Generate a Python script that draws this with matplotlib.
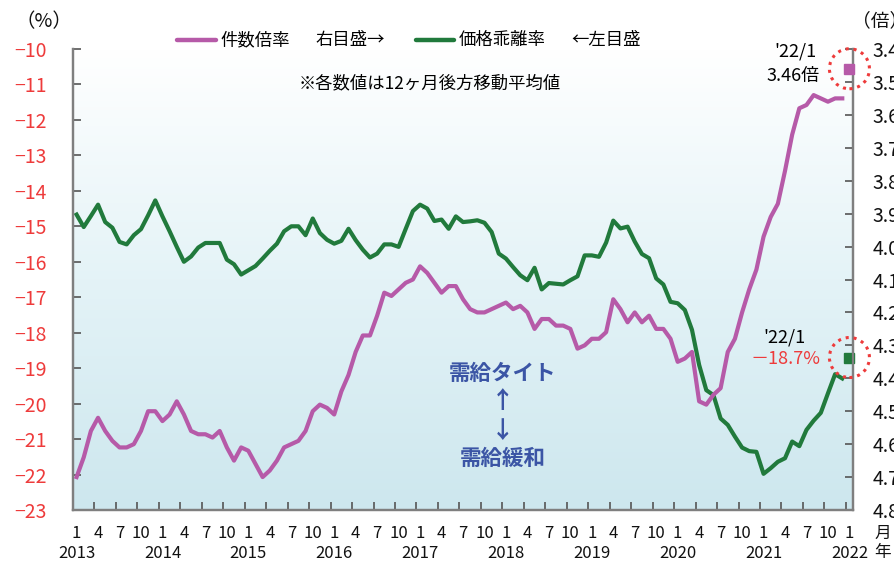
import matplotlib
matplotlib.use("Agg")
import matplotlib.pyplot as plt
import numpy as np
from matplotlib.colors import LinearSegmentedColormap
from matplotlib.lines import Line2D
from matplotlib.patches import Circle
from matplotlib.transforms import IdentityTransform, blended_transform_factory

plt.rcParams["font.family"] = ["Noto Sans CJK JP", "DejaVu Sans"]

# monthly values, 2013/1 .. 2021/12 (12-month trailing moving average)
years = list(range(2013, 2023))
month_labels = ["1", "4", "7", "10"]

# 価格乖離率 (%), left axis
gap = [
    -14.67, -15.02, -14.71, -14.39, -14.88, -15.04, -15.44, -15.51, -15.25, -15.08, -14.69, -14.27,
    -14.72, -15.14, -15.58, -16.00, -15.85, -15.60, -15.47, -15.47, -15.47, -15.94, -16.07, -16.36,
    -16.24, -16.12, -15.91, -15.69, -15.49, -15.14, -15.00, -15.00, -15.25, -14.78, -15.19, -15.38,
    -15.49, -15.41, -15.07, -15.39, -15.66, -15.88, -15.77, -15.51, -15.51, -15.58, -15.07, -14.57,
    -14.39, -14.50, -14.85, -14.81, -15.07, -14.72, -14.88, -14.86, -14.83, -14.90, -15.16, -15.77,
    -15.91, -16.15, -16.38, -16.52, -16.17, -16.78, -16.60, -16.62, -16.64, -16.52, -16.41, -15.82,
    -15.82, -15.86, -15.46, -14.84, -15.06, -15.01, -15.43, -15.78, -15.90, -16.47, -16.64, -17.13,
    -17.17, -17.36, -17.92, -18.91, -19.62, -19.76, -20.42, -20.60, -20.93, -21.24, -21.34, -21.36,
    -21.98, -21.82, -21.64, -21.54, -21.07, -21.20, -20.74, -20.48, -20.26, -19.71, -19.17, -19.29,
]

# 件数倍率 (倍), right axis (inverted)
ratio = [
    4.70, 4.64, 4.56, 4.52, 4.56, 4.59, 4.61, 4.61, 4.60, 4.56, 4.50, 4.50,
    4.53, 4.51, 4.47, 4.51, 4.56, 4.57, 4.57, 4.58, 4.56, 4.61, 4.65, 4.61,
    4.62, 4.66, 4.70, 4.68, 4.65, 4.61, 4.60, 4.59, 4.56, 4.50, 4.48, 4.49,
    4.51, 4.44, 4.39, 4.32, 4.27, 4.27, 4.21, 4.14, 4.15, 4.13, 4.11, 4.10,
    4.06, 4.08, 4.11, 4.14, 4.12, 4.12, 4.16, 4.19, 4.20, 4.20, 4.19, 4.18,
    4.17, 4.19, 4.18, 4.20, 4.25, 4.22, 4.22, 4.24, 4.24, 4.25, 4.31, 4.30,
    4.28, 4.28, 4.26, 4.16, 4.19, 4.23, 4.20, 4.23, 4.21, 4.25, 4.25, 4.28,
    4.35, 4.34, 4.32, 4.47, 4.48, 4.45, 4.43, 4.32, 4.28, 4.20, 4.13, 4.07,
    3.97, 3.91, 3.87, 3.77, 3.66, 3.58, 3.57, 3.54, 3.55, 3.56, 3.55, 3.55,
]

# latest point, 2022/1
latest_gap = -18.7
latest_ratio = 3.46

left_ticks = list(range(-10, -24, -1))
right_ticks = [3.4, 3.5, 3.6, 3.7, 3.8, 3.9, 4.0, 4.1, 4.2, 4.3, 4.4, 4.5, 4.6, 4.7, 4.8]

PURPLE = "#b65aa8"
GREEN = "#217a3c"
RED = "#ee3b3b"
BLUE = "#3b55a5"
GREY = "#7f7f7f"
INK = "#111111"

W, H = 895, 563


def fx(x):
    return x / W


def fy(y):
    return 1 - y / H


fig = plt.figure(figsize=(W / 100, H / 100), dpi=100)
ax = fig.add_axes([fx(73), fy(510), fx(853) - fx(73), fy(49) - fy(510)])
ax2 = ax.twinx()

n = len(gap)
idx = np.arange(n)
last = n  # index of 2022/1

# background gradient, white at the top to pale blue at the bottom
grad = np.linspace(0, 1, 256).reshape(-1, 1)
cmap = LinearSegmentedColormap.from_list("bg", ["#ffffff", "#e4f3f7", "#cde7ee"])
ax.imshow(grad, extent=[-0.5, last + 0.5, -23, -10], origin="upper",
          aspect="auto", cmap=cmap, zorder=0)

ax.plot(idx, gap, color=GREEN, lw=3.0, solid_joinstyle="round", zorder=3)
ax.plot([last], [latest_gap], marker="s", ms=7, color=GREEN, zorder=4, clip_on=False)
ax2.plot(idx, ratio, color=PURPLE, lw=3.0, solid_joinstyle="round", zorder=3)
ax2.plot([last], [latest_ratio], marker="s", ms=7, color=PURPLE, zorder=4, clip_on=False)

ax.set_xlim(-0.5, last + 0.5)
ax.set_ylim(-23, -10)
ax2.set_ylim(4.8, 3.4)

# axes styling
for a in (ax, ax2):
    a.spines["top"].set_visible(False)
    for s in ("left", "right", "bottom"):
        a.spines[s].set_color(GREY)
        a.spines[s].set_linewidth(1.6)

ax.set_yticks(left_ticks)
ax.set_yticklabels([f"\u2212{abs(v)}" for v in left_ticks], color=RED, fontsize=14)
ax.tick_params(axis="y", direction="in", length=6, width=1.2, color="#555555", pad=19)

ax2.set_yticks(right_ticks)
ax2.set_yticklabels([f"{v:.1f}" for v in right_ticks], color=INK, fontsize=14)
ax2.tick_params(axis="y", direction="in", length=6, width=1.2, color="#555555", pad=14)

ax.set_xticks([])
ax.set_xticks(np.arange(-0.5, last, 3), minor=True)
ax.tick_params(axis="x", which="minor", direction="in", length=6, width=1.2, color="#555555")
ax2.set_xticks([])

# month / year labels under the axis
tr = blended_transform_factory(ax.transData, fig.transFigure)
for k, i in enumerate(range(0, last + 1, 3)):
    ax.text(i, fy(534), month_labels[k % 4], transform=tr, ha="center", va="center",
            fontsize=12, color=INK)
for k, yr in enumerate(years):
    ax.text(k * 12, fy(553), str(yr), transform=tr, ha="center", va="center",
            fontsize=12, color=INK)
fig.text(fx(883), fy(533), "月", ha="center", va="center", fontsize=12, color=INK)
fig.text(fx(883), fy(553), "年", ha="center", va="center", fontsize=12, color=INK)

# unit labels
fig.text(fx(44), fy(22), "（%）", ha="center", va="center", fontsize=14, color=INK)
fig.text(fx(852), fy(21), "（倍）", ha="left", va="center", fontsize=13.5, color=INK)

# legend
ly = fy(40)
fig.add_artist(Line2D([fx(177), fx(216)], [ly, ly], color=PURPLE, lw=3.2,
                      solid_capstyle="round", transform=fig.transFigure))
fig.text(fx(220), ly, "件数倍率", ha="left", va="center", fontsize=12.5)
fig.text(fx(315), ly, "右目盛→", ha="left", va="center", fontsize=12.5)
fig.add_artist(Line2D([fx(416), fx(454)], [ly, ly], color=GREEN, lw=3.2,
                      solid_capstyle="round", transform=fig.transFigure))
fig.text(fx(459), ly, "価格乖離率", ha="left", va="center", fontsize=12.5)
fig.text(fx(571), ly, "←左目盛", ha="left", va="center", fontsize=12.5)
fig.text(fx(430), fy(83), "※各数値は12ヶ月後方移動平均値", ha="center", va="center", fontsize=12.5)

# annotations for latest values
fig.text(fx(795), fy(52), "'22/1", ha="center", va="center", fontsize=13)
fig.text(fx(793), fy(76), "3.46倍", ha="center", va="center", fontsize=13)
fig.text(fx(784), fy(338), "'22/1", ha="center", va="center", fontsize=13)
fig.text(fx(786), fy(359), "－18.7%", ha="center", va="center", fontsize=13, color=RED)

for a, v in ((ax2, latest_ratio), (ax, latest_gap)):
    cx, cy = a.transData.transform((last, v))
    fig.add_artist(Circle((cx, cy), 20, transform=IdentityTransform(), fill=False,
                          edgecolor=RED, lw=2.2, linestyle=(0, (1, 1.6)), clip_on=False))

# supply / demand note
for y, s, fs in ((373, "需給タイト", 15.5), (401, "↑", 17), (431, "↓", 17), (458, "需給緩和", 15.5)):
    fig.text(fx(503), fy(y), s, ha="center", va="center", fontsize=fs,
             color=BLUE, fontweight="bold")

fig.savefig("out.png", dpi=100)
